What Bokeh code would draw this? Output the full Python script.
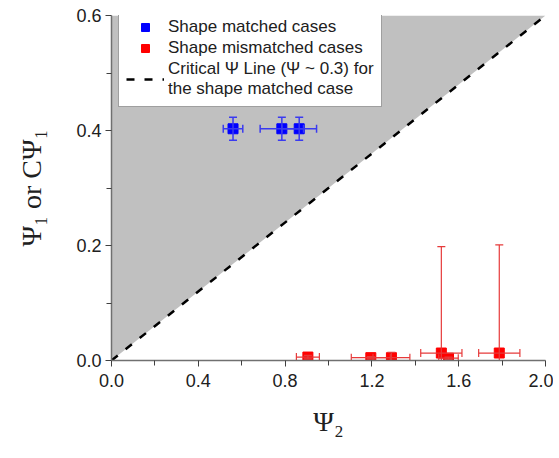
from bokeh.plotting import figure
from bokeh.models import (Range1d, ColumnDataSource, Whisker, Legend, LegendItem,
                          FixedTicker, TeeHead, NumeralTickFormatter)
from bokeh.embed import file_html
from bokeh.resources import INLINE

# ---- data ----
matched_x = [0.56, 0.785, 0.865]
matched_y = [0.403, 0.403, 0.403]
matched_xerr = [0.045, 0.10, 0.08]
matched_yerr = [0.02, 0.02, 0.02]

mismatched_x = [0.905, 1.195, 1.29, 1.52, 1.553, 1.787]
mismatched_y = [0.006, 0.005, 0.005, 0.013, 0.004, 0.013]
mismatched_xerr = [0.053, 0.09, 0.085, 0.095, 0.045, 0.095]
mismatched_yerr = [0.003, 0.002, 0.009, 0.185, 0.002, 0.188]

critical_slope = 0.3
x_limits = [0.0, 2.0]
y_limits = [0.0, 0.6]
x_ticks = [0.0, 0.4, 0.8, 1.2, 1.6, 2.0]
x_minor = [0.2, 0.6, 1.0, 1.4, 1.8]
y_ticks = [0.0, 0.2, 0.4, 0.6]
y_minor = [0.1, 0.3, 0.5]

labels = ["Shape matched cases", "Shape mismatched cases",
          "Critical \u03a8 Line (\u03a8 ~ 0.3) for\nthe shape matched case"]

p = figure(width=553, height=452, output_backend="svg", toolbar_location=None,
           x_range=Range1d(*x_limits), y_range=Range1d(*y_limits),
           min_border_left=111, min_border_right=8, min_border_top=15, min_border_bottom=92)
p.outline_line_color = None
p.xgrid.visible = False
p.ygrid.visible = False

# shaded region above critical line
shade = p.patch([x_limits[0], x_limits[0], x_limits[1]],
                [y_limits[0], y_limits[1], y_limits[1]],
                fill_color="#c0c0c0", line_color=None)
shade.level = "underlay"

line_x = x_limits
line_y = [critical_slope * v for v in line_x]
crit = p.line(line_x, line_y, line_color="black", line_width=2.5, line_dash="8 10")

# matched
msrc = ColumnDataSource(dict(
    x=matched_x, y=matched_y,
    xl=[a - b for a, b in zip(matched_x, matched_xerr)],
    xu=[a + b for a, b in zip(matched_x, matched_xerr)],
    yl=[a - b for a, b in zip(matched_y, matched_yerr)],
    yu=[a + b for a, b in zip(matched_y, matched_yerr)]))
bcol = "#3a3af0"
for dim, base, lo, up in [("height", "x", "yl", "yu"), ("width", "y", "xl", "xu")]:
    p.add_layout(Whisker(source=msrc, base=base, lower=lo, upper=up, dimension=dim,
                         line_color=bcol, line_width=1.5, level="glyph",
                         lower_head=TeeHead(size=8, line_color=bcol, line_width=1.5),
                         upper_head=TeeHead(size=8, line_color=bcol, line_width=1.5)))
mr = p.scatter("x", "y", source=msrc, marker="square", size=10, fill_color="#0000ff",
               line_color="#0000ff")

# mismatched
rsrc = ColumnDataSource(dict(
    x=mismatched_x, y=mismatched_y,
    xl=[a - b for a, b in zip(mismatched_x, mismatched_xerr)],
    xu=[a + b for a, b in zip(mismatched_x, mismatched_xerr)],
    yl=[a - b for a, b in zip(mismatched_y, mismatched_yerr)],
    yu=[a + b for a, b in zip(mismatched_y, mismatched_yerr)]))
rcol = "#e63a3a"
for dim, base, lo, up in [("height", "x", "yl", "yu"), ("width", "y", "xl", "xu")]:
    p.add_layout(Whisker(source=rsrc, base=base, lower=lo, upper=up, dimension=dim,
                         line_color=rcol, line_width=1.2, level="glyph",
                         lower_head=TeeHead(size=8, line_color=rcol, line_width=1.2),
                         upper_head=TeeHead(size=8, line_color=rcol, line_width=1.2)))
rr = p.scatter("x", "y", source=rsrc, marker="square", size=10, fill_color="#ff0000",
               line_color="#ff0000")

# axes
for ax in (p.xaxis[0], p.yaxis[0]):
    ax.axis_line_color = "#707070"
    ax.axis_line_width = 1.5
    ax.major_tick_line_color = "#404040"
    ax.minor_tick_line_color = "#404040"
    ax.major_tick_out = 6
    ax.major_tick_in = 0
    ax.minor_tick_out = 5
    ax.minor_tick_in = 0
    ax.major_label_text_font = "Liberation Sans"
    ax.major_label_text_font_size = "18px"
    ax.major_label_text_color = "#202020"
    ax.axis_label_text_font = "Liberation Serif"
    ax.axis_label_text_font_style = "normal"
    ax.axis_label_text_font_size = "28px"
    ax.axis_label_text_color = "#202020"
    ax.formatter = NumeralTickFormatter(format="0.0")

p.xaxis.ticker = FixedTicker(ticks=x_ticks, minor_ticks=x_minor)
p.yaxis.ticker = FixedTicker(ticks=y_ticks, minor_ticks=y_minor)
p.xaxis.axis_label = "\u03a8\u2082"
p.yaxis.axis_label = "\u03a8\u2081 or C\u03a8\u2081"
p.xaxis.axis_label_standoff = 16
p.yaxis.axis_label_standoff = 26
p.xaxis.major_label_standoff = 7
p.yaxis.major_label_standoff = 4

legend = Legend(items=[LegendItem(label=labels[0], renderers=[mr]),
                       LegendItem(label=labels[1], renderers=[rr]),
                       LegendItem(label=labels[2], renderers=[crit])],
                location=(7, 253), glyph_width=38, glyph_height=20, label_standoff=4,
                label_height=20, spacing=1, padding=7, margin=0,
                label_text_font="Liberation Sans", label_text_font_size="17px",
                label_text_color="#202020",
                border_line_color="#404040", border_line_width=1.5,
                background_fill_color="white", background_fill_alpha=1.0)
p.add_layout(legend, "center")

open("out.html", "w").write(file_html(p, INLINE))
